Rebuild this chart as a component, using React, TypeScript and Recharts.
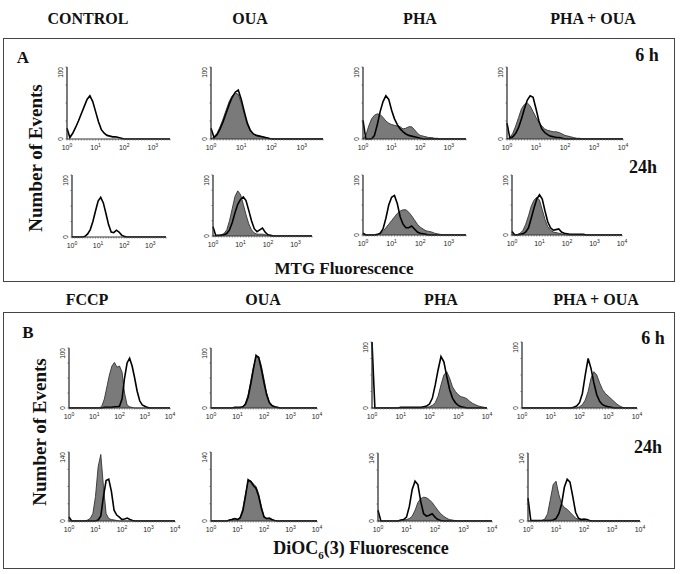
import React from 'react';
import { ComposedChart, Area, Line, XAxis, YAxis } from 'recharts';

// log10 fluorescence channel positions (decades)
const LOG_X = [0, 0.1, 0.2, 0.3, 0.4, 0.5, 0.6, 0.7, 0.8, 0.9, 1.0, 1.1, 1.2, 1.3, 1.4, 1.5, 1.6, 1.7, 1.8, 1.9, 2.0,
  2.1, 2.2, 2.3, 2.4, 2.5, 2.6, 2.7, 2.8, 2.9, 3.0, 3.1, 3.2, 3.3, 3.4, 3.5, 3.6, 3.7, 3.8, 3.9, 4.0];

const A_COLUMNS = ['CONTROL', 'OUA', 'PHA', 'PHA + OUA'];
const B_COLUMNS = ['FCCP', 'OUA', 'PHA', 'PHA + OUA'];
const TIME_LABELS = ['6 h', '24h'];
const X_TICK_EXP = ['0', '1', '2', '3', '4'];

// ---- Panel A (MTG) : open = outline histogram, filled = grey histogram ----
const A_CTRL_6H_OPEN = [15, 2, 8, 16, 25, 35, 45, 55, 60, 52, 38, 24, 13, 8, 5, 4, 3, 3, 2, 1];
const A_OUA_6H_OPEN = [15, 2, 6, 14, 24, 36, 48, 58, 65, 68, 55, 38, 22, 12, 7, 5, 4, 3, 2, 1];
const A_OUA_6H_FILLED = [0, 3, 8, 17, 28, 40, 52, 60, 64, 62, 50, 34, 20, 11, 7, 5, 4, 3, 2, 1];
const A_PHA_6H_OPEN = [26, 0, 0, 0, 5, 20, 38, 52, 60, 55, 40, 28, 20, 14, 10, 7, 5, 4, 3, 2, 1];
const A_PHA_6H_FILLED = [0, 5, 18, 28, 33, 35, 34, 30, 25, 22, 20, 19, 18, 17, 14, 15, 17, 17, 13, 8, 5, 4, 3, 2, 2, 1, 1];
const A_PHAOUA_6H_OPEN = [22, 1, 3, 8, 16, 28, 42, 54, 60, 58, 42, 25, 14, 9, 6, 4, 3, 2, 2, 1];
const A_PHAOUA_6H_FILLED = [0, 2, 8, 18, 30, 42, 48, 50, 46, 38, 30, 23, 18, 14, 12, 11, 10, 10, 9, 7, 5, 4, 3, 2, 1, 1];
const A_CTRL_24H_OPEN = [0, 0, 0, 0, 0, 1, 5, 12, 25, 42, 58, 64, 55, 38, 20, 8, 7, 11, 8, 3, 1];
const A_OUA_24H_OPEN = [15, 1, 1, 1, 2, 4, 10, 22, 38, 52, 60, 64, 58, 42, 25, 12, 7, 10, 13, 6, 2, 1];
const A_OUA_24H_FILLED = [0, 0, 1, 2, 4, 10, 25, 45, 65, 74, 68, 52, 35, 20, 10, 5, 3, 3, 3, 2, 1];
const A_PHA_24H_OPEN = [3, 0, 0, 0, 0, 1, 3, 10, 28, 50, 63, 66, 52, 30, 18, 12, 12, 15, 10, 5, 3, 2, 1];
const A_PHA_24H_FILLED = [0, 0, 0, 0, 0, 0, 2, 6, 12, 18, 24, 30, 36, 40, 42, 42, 38, 32, 25, 18, 13, 10, 7, 6, 5, 3, 2, 1];
const A_PHAOUA_24H_OPEN = [6, 0, 0, 1, 2, 5, 12, 28, 45, 60, 67, 60, 40, 22, 12, 8, 9, 10, 5, 3, 2, 1, 1, 1, 1, 1, 1];
const A_PHAOUA_24H_FILLED = [0, 0, 1, 3, 8, 18, 32, 48, 58, 63, 58, 42, 26, 14, 8, 5, 4, 3, 2, 1];

// ---- Panel B (DiOC6(3)) ----
const B_FCCP_6H_OPEN = [0, 0, 0, 0, 0, 0, 0, 0, 0, 0, 0, 0, 0, 0, 1, 1, 1, 1, 2, 2, 3, 15, 50, 75, 83, 70, 50, 28, 12, 5, 3, 1];
const B_FCCP_6H_FILLED = [0, 0, 0, 0, 0, 0, 0, 0, 0, 0, 0, 0, 0, 3, 15, 35, 55, 70, 76, 68, 70, 60, 25, 5, 2, 1];
const B_OUA_6H_OPEN = [0, 0, 0, 0, 0, 0, 0, 0, 0, 1, 1, 1, 2, 6, 18, 40, 65, 88, 84, 65, 42, 22, 9, 4, 2, 1];
const B_OUA_6H_FILLED = [0, 0, 0, 0, 0, 0, 0, 0, 0, 0, 0, 0, 2, 8, 22, 45, 68, 85, 86, 70, 48, 25, 10, 4, 2, 1];
const B_PHA_6H_OPEN = [100, 0, 0, 0, 0, 0, 0, 0, 0, 0, 1, 1, 1, 1, 1, 1, 1, 1, 2, 3, 6, 15, 35, 58, 78, 70, 48, 28, 15, 8, 4, 2, 1];
const B_PHA_6H_FILLED = [0, 0, 0, 0, 0, 0, 0, 0, 0, 0, 0, 0, 0, 0, 0, 0, 0, 0, 0, 1, 2, 4, 8, 18, 35, 50, 55, 45, 32, 25, 20, 17, 16, 14, 10, 7, 5, 3, 2, 1];
const B_PHAOUA_6H_OPEN = [0, 0, 0, 0, 0, 0, 0, 0, 0, 0, 0, 0, 0, 0, 0, 0, 0, 0, 1, 3, 8, 22, 50, 75, 60, 38, 20, 10, 5, 3, 2, 1];
const B_PHAOUA_6H_FILLED = [0, 0, 0, 0, 0, 0, 0, 0, 0, 0, 0, 0, 0, 0, 0, 0, 0, 0, 0, 0, 2, 5, 12, 25, 45, 55, 50, 38, 28, 22, 18, 14, 10, 6, 3, 1];
const B_FCCP_24H_OPEN = [8, 0, 0, 0, 0, 0, 0, 0, 0, 0, 0, 2, 10, 50, 82, 85, 60, 22, 12, 8, 3, 4, 6, 3, 1];
const B_FCCP_24H_FILLED = [0, 0, 0, 0, 0, 0, 0, 2, 5, 15, 50, 110, 135, 70, 15, 5, 3, 2, 1];
const B_OUA_24H_OPEN = [0, 0, 0, 0, 0, 0, 0, 2, 3, 5, 3, 6, 20, 50, 84, 80, 72, 66, 50, 26, 8, 5, 6, 3, 1];
const B_OUA_24H_FILLED = [0, 0, 0, 0, 0, 0, 0, 2, 4, 5, 3, 8, 25, 55, 80, 82, 75, 70, 55, 30, 10, 5, 4, 2, 1];
const B_PHA_24H_OPEN = [22, 0, 0, 0, 0, 0, 0, 0, 2, 3, 8, 30, 65, 82, 75, 40, 15, 10, 12, 15, 8, 3, 1];
const B_PHA_24H_FILLED = [0, 0, 0, 0, 0, 0, 0, 0, 1, 2, 3, 5, 10, 22, 38, 46, 49, 48, 44, 38, 30, 22, 15, 10, 6, 3, 2, 1];
const B_PHAOUA_24H_OPEN = [47, 1, 1, 1, 1, 1, 1, 1, 1, 2, 5, 15, 35, 70, 86, 80, 50, 18, 6, 3, 4, 3, 1];
const B_PHAOUA_24H_FILLED = [0, 0, 0, 0, 0, 1, 4, 15, 45, 75, 82, 55, 35, 28, 24, 18, 12, 6, 3, 2, 1];

// ---- layout of the 16 small histograms (axis origin, axis end, top, baseline) ----
type Panel = {
  open: number[]; filled: number[] | null;
  x0: number; x1: number; top: number; base: number; xmax: number; ymax: number;
};

const PANELS: Panel[] = [
  { open: A_CTRL_6H_OPEN, filled: null, x0: 67, x1: 170, top: 67, base: 139, xmax: 3.6, ymax: 100 },
  { open: A_OUA_6H_OPEN, filled: A_OUA_6H_FILLED, x0: 211, x1: 323, top: 67, base: 139, xmax: 3.7, ymax: 100 },
  { open: A_PHA_6H_OPEN, filled: A_PHA_6H_FILLED, x0: 363, x1: 466, top: 67, base: 139, xmax: 3.6, ymax: 100 },
  { open: A_PHAOUA_6H_OPEN, filled: A_PHAOUA_6H_FILLED, x0: 507, x1: 623, top: 67, base: 139, xmax: 4, ymax: 100 },
  { open: A_CTRL_24H_OPEN, filled: null, x0: 72, x1: 166, top: 175, base: 237, xmax: 3.6, ymax: 100 },
  { open: A_OUA_24H_OPEN, filled: A_OUA_24H_FILLED, x0: 213, x1: 312, top: 175, base: 236, xmax: 3.6, ymax: 100 },
  { open: A_PHA_24H_OPEN, filled: A_PHA_24H_FILLED, x0: 363, x1: 466, top: 175, base: 235, xmax: 3.6, ymax: 100 },
  { open: A_PHAOUA_24H_OPEN, filled: A_PHAOUA_24H_FILLED, x0: 512, x1: 622, top: 175, base: 235, xmax: 4, ymax: 100 },
  { open: B_FCCP_6H_OPEN, filled: B_FCCP_6H_FILLED, x0: 69, x1: 170, top: 348, base: 408, xmax: 4, ymax: 100 },
  { open: B_OUA_6H_OPEN, filled: B_OUA_6H_FILLED, x0: 211, x1: 317, top: 348, base: 408, xmax: 4, ymax: 100 },
  { open: B_PHA_6H_OPEN, filled: B_PHA_6H_FILLED, x0: 372, x1: 487, top: 342, base: 408, xmax: 4, ymax: 100 },
  { open: B_PHAOUA_6H_OPEN, filled: B_PHAOUA_6H_FILLED, x0: 522, x1: 637, top: 342, base: 408, xmax: 4, ymax: 100 },
  { open: B_FCCP_24H_OPEN, filled: B_FCCP_24H_FILLED, x0: 69, x1: 175, top: 452, base: 521, xmax: 4, ymax: 140 },
  { open: B_OUA_24H_OPEN, filled: B_OUA_24H_FILLED, x0: 211, x1: 317, top: 452, base: 521, xmax: 4, ymax: 140 },
  { open: B_PHA_24H_OPEN, filled: B_PHA_24H_FILLED, x0: 378, x1: 492, top: 453, base: 521, xmax: 4, ymax: 140 },
  { open: B_PHAOUA_24H_OPEN, filled: B_PHAOUA_24H_FILLED, x0: 528, x1: 640, top: 453, base: 521, xmax: 4, ymax: 140 },
];

const SERIF = "'Liberation Serif', 'Times New Roman', serif";
const SANS = "'Liberation Sans', Arial, sans-serif";

const ML = 12, MB = 12, MT = 2, MR = 6;

function XTick(props: any) {
  const { x, y, payload } = props;
  const v = payload.value;
  if (Math.abs(v - Math.round(v)) > 1e-6) return <g />;
  const exp = X_TICK_EXP[Math.round(v)];
  return (
    <text x={x} y={y + 7} textAnchor="middle" fontSize={7} fontFamily={SANS} fill="#222">
      10<tspan dy={-2.5} fontSize={5}>{exp}</tspan>
    </text>
  );
}

function YTick(props: any) {
  const { x, y, payload, ymax } = props;
  const v = payload.value;
  if (v !== 0 && v !== ymax) return <g />;
  const isTop = v > 0;
  return (
    <text
      x={0} y={0}
      transform={`translate(${x - 1},${y}) rotate(-90)`}
      textAnchor={isTop ? 'end' : 'middle'}
      fontSize={6.5} fontFamily={SANS} fill="#222"
    >
      {v}
    </text>
  );
}

function Histo({ p }: { p: Panel }) {
  const plotW = p.x1 - p.x0;
  const plotH = p.base - p.top;
  const W = plotW + ML + MR;
  const H = plotH + MT + MB;
  const rows = LOG_X.filter((x) => x <= p.xmax + 1e-9).map((x, i) => ({
    x,
    open: p.open[i] ?? 0,
    filled: p.filled ? p.filled[i] ?? 0 : 0,
  }));
  const xTicks: number[] = [];
  for (let k = 0; k <= Math.round(p.xmax * 10); k++) xTicks.push(Math.round(k) / 10);
  const yTicks = [0, p.ymax / 4, p.ymax / 2, (3 * p.ymax) / 4, p.ymax];
  return (
    <div style={{ position: 'absolute', left: p.x0 - ML, top: p.top - MT }}>
      <ComposedChart width={W} height={H} data={rows} margin={{ top: MT, right: MR, bottom: 0, left: 0 }}>
        <XAxis
          dataKey="x" type="number" domain={[0, p.xmax]} ticks={xTicks} height={MB}
          tick={<XTick />} tickLine={{ stroke: '#666', strokeWidth: 0.8 }} tickSize={1.5}
          axisLine={{ stroke: '#333', strokeWidth: 1 }} interval={0}
        />
        <YAxis
          type="number" domain={[0, p.ymax]} ticks={yTicks} width={ML}
          tick={<YTick ymax={p.ymax} />} tickLine={{ stroke: '#555', strokeWidth: 0.8 }} tickSize={1.5}
          axisLine={{ stroke: '#222', strokeWidth: 1.2 }} interval={0}
        />
        {p.filled && (
          <Area
            dataKey="filled" type="linear" fill="#7a7a7a" fillOpacity={1}
            stroke="#333" strokeWidth={0.9} isAnimationActive={false} dot={false} activeDot={false}
          />
        )}
        <Line
          dataKey="open" type="linear" stroke="#000" strokeWidth={1.6}
          dot={false} activeDot={false} isAnimationActive={false}
        />
      </ComposedChart>
    </div>
  );
}

function Label({ x, y, text, size, rotate }: { x: number; y: number; text: React.ReactNode; size: number; rotate?: boolean }) {
  return (
    <div
      style={{
        position: 'absolute', left: x, top: y,
        transform: `translate(-50%, -50%)${rotate ? ' rotate(-90deg)' : ''}`,
        fontFamily: SERIF, fontWeight: 'bold', fontSize: size, whiteSpace: 'nowrap', lineHeight: 1, color: '#111',
      }}
    >
      {text}
    </div>
  );
}

const A_COL_X = [88, 250, 420, 593];
const B_COL_X = [87, 263, 441, 596];

export default function App() {
  return (
    <div style={{ position: 'absolute', left: 0, top: 0, width: 684, height: 574, background: '#fff', overflow: 'hidden' }}>
      {A_COLUMNS.map((c, i) => <Label key={'a' + i} x={A_COL_X[i]} y={19} text={c} size={16} />)}
      {B_COLUMNS.map((c, i) => <Label key={'b' + i} x={B_COL_X[i]} y={300} text={c} size={16} />)}

      <div style={{ position: 'absolute', left: 3, top: 38, width: 672, height: 244, border: '1.5px solid #444', boxSizing: 'border-box' }} />
      <div style={{ position: 'absolute', left: 3, top: 312, width: 672, height: 257, border: '1.5px solid #444', boxSizing: 'border-box' }} />

      <Label x={23} y={57} text="A" size={17} />
      <Label x={28} y={332} text="B" size={17} />
      <Label x={647} y={55} text={TIME_LABELS[0]} size={18} />
      <Label x={643} y={167} text={TIME_LABELS[1]} size={18} />
      <Label x={653} y={338} text={TIME_LABELS[0]} size={18} />
      <Label x={648} y={447} text={TIME_LABELS[1]} size={18} />
      <Label x={35} y={158} text="Number of Events" size={19} rotate />
      <Label x={39} y={432} text="Number of Events" size={19} rotate />
      <Label x={344} y={268} text="MTG Fluorescence" size={17} />
      <Label x={361} y={548} text={<span>DiOC<sub style={{ fontSize: 11, verticalAlign: 'sub', lineHeight: 0 }}>6</sub>(3) Fluorescence</span>} size={18} />

      {PANELS.map((p, i) => <Histo key={i} p={p} />)}
    </div>
  );
}
